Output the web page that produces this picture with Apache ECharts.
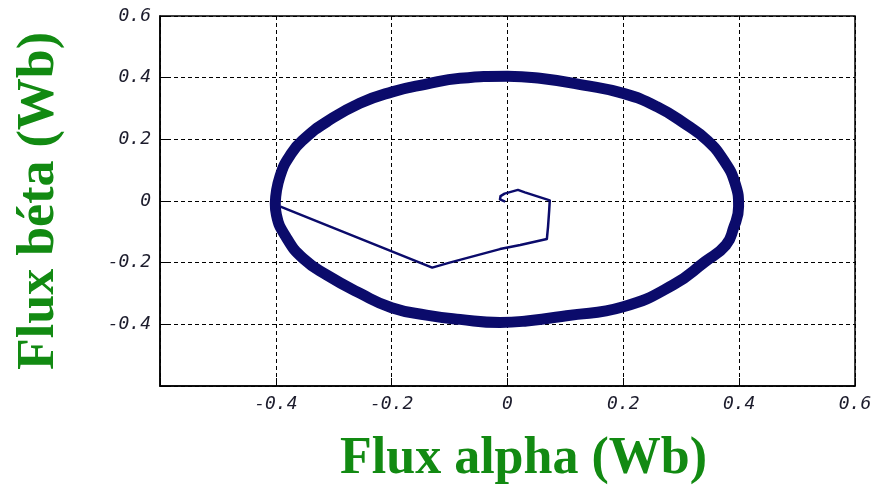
<!DOCTYPE html>
<html>
<head>
<meta charset="utf-8">
<script src="https://cdn.jsdelivr.net/npm/echarts@6/dist/echarts.min.js"></script>
<style>
  html, body { margin: 0; padding: 0; background: #fff; }
  #chart { width: 876px; height: 493px; }
</style>
</head>
<body>
<div id="chart"></div>
<script>
// valeurs (Wb)
// régime transitoire : départ à l'origine
const transAlpha = [-0.004, -0.013, -0.012, -0.005, 0.018, 0.030, 0.073, 0.072, 0.070, 0.068, 0.022, -0.013, -0.100, -0.130, -0.392];
const transBeta  = [-0.002, 0.005, 0.016, 0.024, 0.036, 0.028, 0.002, -0.030, -0.083, -0.123, -0.143, -0.156, -0.200, -0.216, -0.018];

// régime établi : trajectoire quasi circulaire
const cycleAlpha = [-0.401, -0.393, -0.373, -0.350, -0.312, -0.255, -0.199, -0.140, -0.082, 0.000, 0.056, 0.131, 0.200, 0.258, 0.310, 0.344, 0.373, 0.393, 0.399, 0.390, 0.377, 0.341, 0.286, 0.200, 0.102, 0.033, -0.013, -0.082, -0.140, -0.200, -0.255, -0.312, -0.353, -0.381, -0.399, -0.401];
const cycleBeta  = [-0.008, 0.079, 0.155, 0.203, 0.257, 0.317, 0.354, 0.379, 0.398, 0.405, 0.398, 0.376, 0.349, 0.306, 0.246, 0.198, 0.133, 0.057, -0.019, -0.089, -0.143, -0.197, -0.272, -0.343, -0.372, -0.389, -0.394, -0.384, -0.370, -0.346, -0.299, -0.240, -0.186, -0.121, -0.045, -0.008];

const axisTicks = [-0.6, -0.4, -0.2, 0, 0.2, 0.4, 0.6];
const hiddenTicks = [-0.6];

const navy = '#0b0b6b';
const green = '#128a12';

function tickLabel(v) {
  const r = Math.round(v * 10) / 10;
  if (hiddenTicks.indexOf(r) >= 0) return '';
  if (r === 0) return '0';
  return r.toFixed(1);
}

function makeAxis(name, nameGap, rotate, namePad) {
  return {
    type: 'value',
    min: axisTicks[0],
    max: axisTicks[axisTicks.length - 1],
    interval: 0.2,
    name: name,
    nameLocation: 'middle',
    nameGap: nameGap,
    nameRotate: rotate,
    nameTextStyle: {
      fontFamily: 'Liberation Serif',
      fontWeight: 'bold',
      fontSize: 52,
      color: green,
      padding: namePad,
    },
    axisLine: { show: true, onZero: false, lineStyle: { color: '#000', width: 1.5 } },
    axisTick: { show: true, inside: true, length: 8, lineStyle: { color: '#000' } },
    axisLabel: {
      formatter: tickLabel,
      fontFamily: 'DejaVu Sans Mono',
      fontStyle: 'italic',
      fontSize: 18,
      color: '#1c1c2c',
      margin: 9,
    },
    splitLine: { show: true, lineStyle: { color: '#000', type: [4, 3], width: 1 } },
  };
}

const chart = echarts.init(document.getElementById('chart'));
chart.setOption({
  animation: false,
  backgroundColor: '#fff',
  grid: {
    left: 160,
    right: 21,
    top: 16,
    bottom: 107,
    show: true,
    borderColor: '#000',
    borderWidth: 1.5,
  },
  xAxis: makeAxis('Flux alpha (Wb)', 48, 0, [0, 0, 0, 32]),
  yAxis: makeAxis('Flux béta (Wb)', 94, 90, [0, 0, 0, 0]),
  series: [
    {
      name: 'cycle',
      type: 'line',
      data: cycleAlpha.map((a, i) => [a, cycleBeta[i]]),
      showSymbol: false,
      smooth: 0.5,
      lineStyle: { color: navy, width: 11, join: 'round', cap: 'round' },
      z: 3,
    },
    {
      name: 'transitoire',
      type: 'line',
      data: transAlpha.map((a, i) => [a, transBeta[i]]),
      showSymbol: false,
      lineStyle: { color: navy, width: 2.5, join: 'round' },
      z: 4,
    },
  ],
});
</script>
</body>
</html>
